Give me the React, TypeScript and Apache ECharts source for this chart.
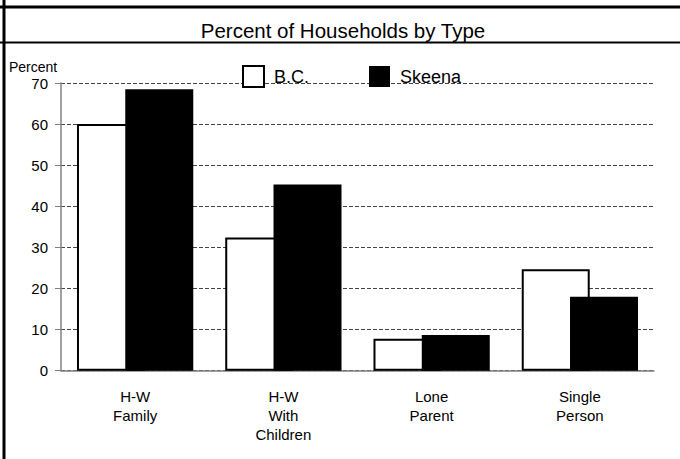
import React, { useEffect, useRef } from "react";
import * as echarts from "echarts";

const categories = ["H-W\nFamily", "H-W\nWith\nChildren", "Lone\nParent", "Single\nPerson"];
const bcValues = [60, 32.4, 7.8, 24.7];
const skeenaValues = [68.5, 45.3, 8.7, 18.0];
const seriesNames = ["B.C.", "Skeena"];
const titleText = "Percent of Households by Type";
const yAxisName = "Percent";

const FONT = "'Liberation Sans', Arial, sans-serif";

export default function App() {
  const ref = useRef<HTMLDivElement>(null);
  useEffect(() => {
    document.body.style.margin = "0";
    const chart = echarts.init(ref.current!, null, { renderer: "svg" });
    chart.setOption({
      animation: false,
      backgroundColor: "#fff",
      textStyle: { fontFamily: FONT },
      grid: { left: 61, right: 26, top: 83, bottom: 88.3, containLabel: false },
      legend: {
        data: seriesNames,
        left: 242,
        top: 65,
        padding: 0,
        icon: "rect",
        itemWidth: 21,
        itemHeight: 21,
        itemGap: 60,
        textStyle: { fontSize: 18, color: "#000", fontFamily: FONT, padding: [2, 0, 0, 5] },
      },
      xAxis: {
        type: "category",
        data: categories,
        axisTick: { show: false },
        axisLine: { lineStyle: { color: "#808080", width: 1.5 } },
        axisLabel: {
          interval: 0,
          margin: 16,
          lineHeight: 19,
          fontSize: 15,
          color: "#000",
          fontFamily: FONT,
        },
      },
      yAxis: {
        type: "value",
        min: 0,
        max: 70,
        interval: 10,
        axisLine: { show: true, lineStyle: { color: "#808080", width: 1.5 } },
        axisTick: { show: true, length: 6, lineStyle: { color: "#808080" } },
        axisLabel: { margin: 13, fontSize: 15, color: "#000", fontFamily: FONT },
        splitLine: { show: true, lineStyle: { color: "#444", type: [4, 2], width: 1 } },
      },
      series: [
        {
          name: seriesNames[0],
          type: "bar",
          data: bcValues,
          barWidth: 68,
          barGap: "-29%",
          itemStyle: { color: "#fff", borderColor: "#000", borderWidth: 2 },
        },
        {
          name: seriesNames[1],
          type: "bar",
          data: skeenaValues,
          barWidth: 68,
          itemStyle: { color: "#000", borderColor: "#000", borderWidth: 0 },
        },
      ],
      graphic: [
        { type: "line", shape: { x1: 4, y1: 0, x2: 4, y2: 459 }, style: { stroke: "#000", lineWidth: 3 } },
        { type: "line", shape: { x1: 0, y1: 7, x2: 680, y2: 7 }, style: { stroke: "#000", lineWidth: 3 } },
        { type: "line", shape: { x1: 0, y1: 42.5, x2: 680, y2: 42.5 }, style: { stroke: "#000", lineWidth: 2 } },
        {
          type: "text",
          x: 343,
          y: 30,
          style: {
            text: titleText,
            fontSize: 20.5,
            fontFamily: FONT,
            fill: "#000",
            textAlign: "center",
            textVerticalAlign: "middle",
          },
        },
        {
          type: "text",
          x: 9,
          y: 67,
          style: {
            text: yAxisName,
            fontSize: 14,
            fontFamily: FONT,
            fill: "#000",
            textAlign: "left",
            textVerticalAlign: "middle",
          },
        },
      ],
    });
    return () => chart.dispose();
  }, []);
  return <div ref={ref} style={{ width: 680, height: 459 }} />;
}
